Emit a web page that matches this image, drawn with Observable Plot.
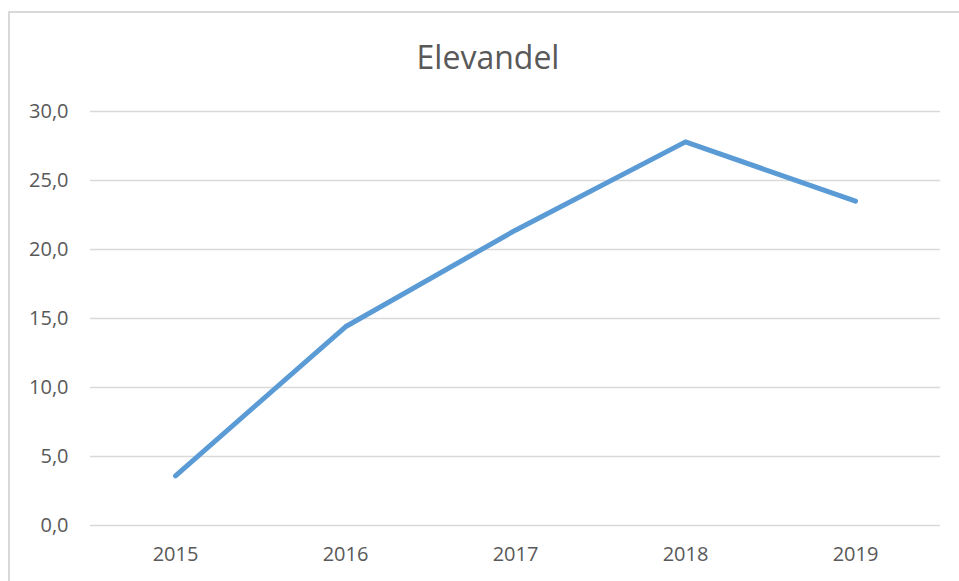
<!DOCTYPE html>
<html>
<head>
<meta charset="utf-8">
<script src="https://cdn.jsdelivr.net/npm/d3@7"></script>
<script src="https://cdn.jsdelivr.net/npm/@observablehq/plot@0.6"></script>
<style>
  html, body { margin: 0; padding: 0; background: #fff; overflow: hidden; }
  body { width: 959px; height: 581px; position: relative; font-family: "Open Sans", sans-serif; }
  #frame { position: absolute; left: 8px; top: 11px; width: 1000px; height: 700px; border: 2px solid #d9d9d9; box-sizing: border-box; pointer-events: none; }
  #title { position: absolute; left: 0; width: 976px; top: 37px; text-align: center; font-size: 32px; line-height: 40px; color: #595959; height: 40px; margin: 0; font-weight: 400; }
  #plot { position: absolute; left: 0; top: 90px; }
</style>
</head>
<body>
<div id="frame"></div>
<div id="title">Elevandel</div>
<div id="plot"></div>
<script>
const years = ["2015", "2016", "2017", "2018", "2019"];
const values = [3.6, 14.4, 21.4, 27.8, 23.5];
const yTicks = [0, 5, 10, 15, 20, 25, 30];

const data = years.map((y, i) => ({year: y, value: values[i]}));
const fmt = d => d.toFixed(1).replace(".", ",");

const chart = Plot.plot({
  width: 959,
  height: 491,
  marginLeft: 90,
  marginRight: 19,
  marginTop: 21,
  marginBottom: 56,
  style: { fontFamily: "Open Sans, sans-serif", fontSize: "20px", color: "#595959", background: "transparent" },
  x: { type: "point", domain: years, padding: 0.5, label: null },
  y: { domain: [0, 30], label: null },
  marks: [
    Plot.ruleY(yTicks, { stroke: "#d9d9d9", strokeWidth: 1.5 }),
    Plot.axisY(yTicks, { tickSize: 0, tickPadding: 22, tickFormat: fmt, label: null, fill: "#595959", fontSize: 20 }),
    Plot.axisX(years, { tickSize: 0, tickPadding: 21, label: null, fill: "#595959", fontSize: 20 }),
    Plot.line(data, { x: "year", y: "value", stroke: "#5b9bd5", strokeWidth: 5, strokeLinecap: "round", strokeLinejoin: "round" })
  ]
});
document.getElementById("plot").appendChild(chart);
</script>
</body>
</html>
